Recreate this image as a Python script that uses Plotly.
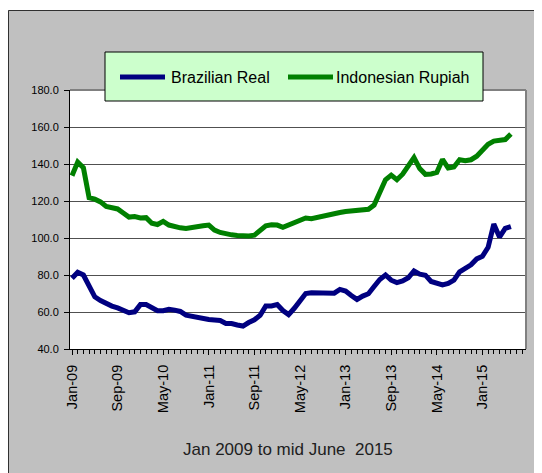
import plotly.graph_objects as go
import pandas as pd

# ---- data (monthly, Jan 2009 .. mid June 2015) ----
months = pd.date_range("2009-01-01", "2015-06-01", freq="MS").strftime("%b-%y").tolist()

brazilian_real = [
    78.2, 81.5, 80.0, 73.5, 68.2, 66.2, 64.4, 63.2, 62.2, 61.1,
    59.6, 60.1, 64.0, 64.0, 62.6, 60.7, 60.7, 61.5, 61.0, 60.3,
    58.3, 57.6, 57.3, 56.8, 56.0, 55.7, 55.4, 53.8, 53.8, 53.0,
    52.4, 54.3, 55.8, 58.2, 63.3, 63.3, 64.0, 60.8, 58.6, 62.0,
    66.0, 70.0, 70.4, 70.2, 70.2, 70.2, 70.2, 72.2, 71.3, 68.9,
    66.8, 68.6, 69.9, 73.8, 77.6, 80.0, 77.2, 75.9, 76.8, 78.5,
    82.2, 80.5, 79.9, 76.5, 75.8, 74.6, 75.4, 77.2, 81.7, 83.6,
    85.5, 88.7, 90.1, 95.0, 107.5, 100.5, 105.2, 106.2,
]

indonesian_rupiah = [
    133.7, 141.0, 138.0, 121.8, 121.0, 119.5, 117.0, 116.6, 115.7, 113.5,
    111.3, 111.6, 110.8, 111.0, 108.0, 107.3, 109.0, 107.0, 106.0, 105.5,
    105.1, 105.8, 106.3, 106.6, 107.0, 104.3, 103.0, 102.0, 101.7, 101.4,
    101.2, 101.1, 101.5, 104.0, 106.6, 107.2, 107.0, 105.8, 107.1, 108.2,
    109.1, 110.8, 110.4, 111.2, 112.0, 112.7, 113.2, 113.8, 114.3, 114.5,
    114.7, 114.9, 115.5, 117.8, 124.0, 131.5, 134.0, 131.5, 134.5, 139.0,
    143.5, 137.5, 134.4, 134.6, 135.4, 142.5, 137.8, 138.4, 142.3, 141.8,
    142.3, 144.2, 147.5, 150.7, 152.4, 152.9, 153.2, 156.2,
]

tick_labels = ["Jan-09", "Sep-09", "May-10", "Jan-11", "Sep-11",
               "May-12", "Jan-13", "Sep-13", "May-14", "Jan-15"]
y_ticks = [40, 60, 80, 100, 120, 140, 160, 180]

series_names = ["Brazilian Real", "Indonesian Rupiah"]
chart_title = "Jan 2009 to mid June  2015"

# ---- styling / layout (positions given in page pixels) ----
PAGE_W, PAGE_H = 542, 473
OFF = 8                       # default body margin of the html page
W, H = PAGE_W - OFF, PAGE_H - OFF
PL, PR, PT, PB = 70, 526, 90, 349   # plot area in page pixels
BLUE = "#000080"
GREEN = "#008000"
GRAY_BG = "#c0c0c0"
FONT = "Arial, Liberation Sans, sans-serif"


def px(x):
    return (x - PL) / (PR - PL)


def py(y):
    return (PB - y) / (PB - PT)


x_idx = list(range(len(months)))
tickvals = [months.index(t) for t in tick_labels]

fig = go.Figure()
fig.add_trace(go.Scatter(x=x_idx, y=brazilian_real, mode="lines",
                         name=series_names[0],
                         line=dict(color=BLUE, width=5), showlegend=False))
fig.add_trace(go.Scatter(x=x_idx, y=indonesian_rupiah, mode="lines",
                         name=series_names[1],
                         line=dict(color=GREEN, width=5), showlegend=False))

shapes = [
    # white page edge strips
    dict(type="rect", xref="paper", yref="paper", x0=px(0), x1=px(560), y0=py(10), y1=py(0),
         fillcolor="white", line=dict(width=0), layer="below"),
    dict(type="rect", xref="paper", yref="paper", x0=px(541), x1=px(560), y0=py(490), y1=py(0),
         fillcolor="white", line=dict(width=0), layer="below"),
    # outer frame
    dict(type="rect", xref="paper", yref="paper", x0=px(8.5), x1=px(540.5), y0=py(490), y1=py(10.5),
         line=dict(color="#303030", width=1), fillcolor="rgba(0,0,0,0)", layer="above"),
    # plot area top / right border (gray)
    dict(type="line", xref="paper", yref="paper", x0=0, x1=1, y0=1, y1=1,
         line=dict(color="#808080", width=2), layer="above"),
    dict(type="line", xref="paper", yref="paper", x0=1, x1=1, y0=0, y1=1,
         line=dict(color="#808080", width=2), layer="above"),
    # legend box
    dict(type="rect", xref="paper", yref="paper", x0=px(105), x1=px(483), y0=py(101), y1=py(52),
         fillcolor="#ccffcc", line=dict(color="black", width=1), layer="above"),
    dict(type="line", xref="paper", yref="paper", x0=px(120), x1=px(165), y0=py(77), y1=py(77),
         line=dict(color=BLUE, width=5), layer="above"),
    dict(type="line", xref="paper", yref="paper", x0=px(288), x1=px(333), y0=py(77), y1=py(77),
         line=dict(color=GREEN, width=5), layer="above"),
]

annotations = [
    dict(text=series_names[0], xref="paper", yref="paper", x=px(169), y=py(77),
         xanchor="left", yanchor="middle", showarrow=False,
         font=dict(family=FONT, size=16, color="black")),
    dict(text=series_names[1], xref="paper", yref="paper", x=px(334), y=py(77),
         xanchor="left", yanchor="middle", showarrow=False,
         font=dict(family=FONT, size=16, color="black")),
    dict(text=chart_title, xref="paper", yref="paper", x=px(288), y=py(449),
         xanchor="center", yanchor="middle", showarrow=False,
         font=dict(family=FONT, size=17, color="#202020")),
]

fig.update_layout(
    width=W, height=H,
    margin=dict(l=PL - OFF, r=W - (PR - OFF), t=PT - OFF, b=H - (PB - OFF), pad=0),
    paper_bgcolor=GRAY_BG, plot_bgcolor="white",
    shapes=shapes, annotations=annotations,
    showlegend=False,
    xaxis=dict(
        range=[-0.35, 79.65], tickmode="array", tickvals=tickvals, ticktext=tick_labels,
        tickangle=-90, ticks="outside", ticklen=5, tickcolor="black", tickwidth=1,
        minor=dict(dtick=1, tick0=0, ticks="outside", ticklen=4, tickcolor="black", showgrid=False),
        showline=True, linecolor="black", linewidth=1, showgrid=False, zeroline=False,
        automargin=False, ticklabelstandoff=4,
        tickfont=dict(family=FONT, size=14.5, color="black"),
    ),
    yaxis=dict(
        range=[40, 180], tickmode="array", tickvals=y_ticks,
        ticktext=[f"{v:.1f}" for v in y_ticks],
        ticks="outside", ticklen=5, tickcolor="black",
        showline=True, linecolor="black", linewidth=1,
        showgrid=True, gridcolor="#505050", gridwidth=1, zeroline=False,
        automargin=False, ticklabelstandoff=3,
        tickfont=dict(family=FONT, size=11, color="black"),
    ),
)

fig.write_html("out.html")
